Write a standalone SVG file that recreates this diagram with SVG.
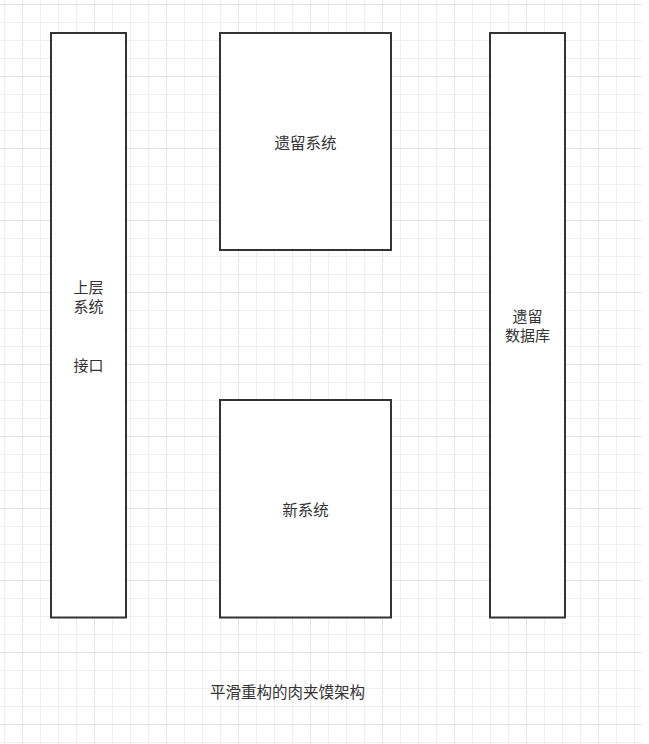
<svg xmlns="http://www.w3.org/2000/svg" width="649" height="744" viewBox="0 0 649 744">
<defs>
<pattern id="grid" patternUnits="userSpaceOnUse" x="22" y="4" width="72" height="72">
<rect x="0" y="0" width="72" height="72" fill="#ffffff"/>
<rect x="18" y="0" width="1" height="72" fill="#efefef"/>
<rect x="36" y="0" width="1" height="72" fill="#efefef"/>
<rect x="54" y="0" width="1" height="72" fill="#efefef"/>
<rect x="0" y="18" width="72" height="1" fill="#efefef"/>
<rect x="0" y="36" width="72" height="1" fill="#efefef"/>
<rect x="0" y="54" width="72" height="1" fill="#efefef"/>
<rect x="0" y="0" width="1" height="72" fill="#e4e4e4"/>
<rect x="0" y="0" width="72" height="1" fill="#e4e4e4"/>
</pattern>
<style>
.box{fill:#ffffff;stroke:#333333;stroke-width:2}
.lbl{font-family:"Noto Sans CJK SC","Microsoft YaHei",sans-serif;font-size:15.5px;fill:#333333;text-anchor:middle}
.sm{font-size:15px}
</style>
</defs>
<rect x="0" y="0" width="649" height="744" fill="#ffffff"/>
<rect x="0" y="0" width="642" height="744" fill="url(#grid)"/>
<g id="connectors"></g>
<g id="upper-system">
<rect class="box" x="51" y="33" width="75" height="584.5"/>
<text class="lbl sm" x="88.5" y="293">上层</text>
<text class="lbl sm" x="88.5" y="312">系统</text>
<text class="lbl sm" x="88.5" y="370.5">接口</text>
</g>
<g id="legacy-system">
<rect class="box" x="220" y="33" width="171" height="217"/>
<text class="lbl" x="305.5" y="149">遗留系统</text>
</g>
<g id="new-system">
<rect class="box" x="220" y="400" width="171" height="217.5"/>
<text class="lbl" x="305.5" y="516">新系统</text>
</g>
<g id="legacy-db">
<rect class="box" x="490" y="33" width="75" height="584.5"/>
<text class="lbl sm" x="527.5" y="321.5">遗留</text>
<text class="lbl sm" x="527.5" y="340.5">数据库</text>
</g>
<g id="caption">
<text class="lbl" x="287.5" y="698">平滑重构的肉夹馍架构</text>
</g>
</svg>
